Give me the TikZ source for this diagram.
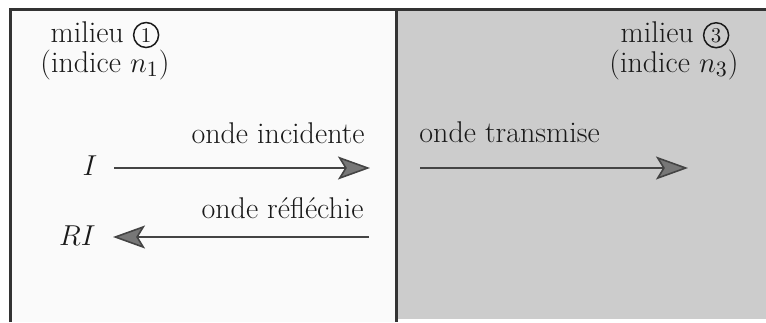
\documentclass[tikz,border=0pt]{standalone}
\usepackage{fontspec}
\usetikzlibrary{arrows.meta}
\definecolor{framec}{HTML}{333333}
\definecolor{leftbg}{HTML}{FAFAFA}
\definecolor{rightbg}{HTML}{CCCCCC}
\definecolor{arrline}{HTML}{444444}
\definecolor{tipfill}{HTML}{777777}
\newcommand\circnum[2]{\tikz[baseline=(#2.base), x=1pt, y=1pt]\node[draw=black!90, circle, line width=0.75pt, inner sep=0pt, minimum size=12.5pt, font=\fontsize{10.5}{12}\selectfont] (#2) {#1};}
\tikzset{
  lbl/.style={inner sep=0pt, font=\fontsize{15}{18}\selectfont, text=black!90},
  wave/.style={draw=arrline, line width=1.1pt,
    -{Stealth[length=16pt, width=11.5pt, inset=3.5pt, fill=tipfill, line width=0.8pt]}},
  framel/.style={draw=framec, line width=1.5pt}
}
\begin{document}
\begin{tikzpicture}[x=0.5pt,y=-0.5pt]
\useasboundingbox (0,0) rectangle (766,322);
\fill[white] (0,0) rectangle (766,322);
\fill[leftbg] (10,9) rectangle (396,322);
\fill[rightbg] (396,9) rectangle (766,319);
\draw[framel] (10,322) -- (10,9) -- (766,9);
\draw[framel] (396,9) -- (396,322);
% top labels
\node[lbl, anchor=base] (m1) at (105,42) {milieu \circnum{1}{c1}};
\node[lbl, anchor=base] (i1) at (105,72) {(indice $n_1$)};
\node[lbl, anchor=base] (m3) at (675,42) {milieu \circnum{3}{c3}};
\node[lbl, anchor=base] (i3) at (674,72) {(indice $n_3$)};
% wave labels
\node[lbl] (I) at (90,166) {$I$};
\node[lbl, anchor=east] (RI) at (96,236) {$RI$};
\node[lbl, anchor=base east] (tinc) at (365,143) {onde incidente};
\node[lbl, anchor=base east] (tref) at (364,218) {onde réfléchie};
\node[lbl, anchor=base west] (ttr) at (419,142) {onde transmise};
% arrow ends
\coordinate (a1) at (114,168);
\coordinate (a2) at (370,168);
\coordinate (b1) at (369,237);
\coordinate (b2) at (113,237);
\coordinate (e1) at (420,168);
\coordinate (e2) at (688,168);
\draw[wave] (a1) -- (a2);
\draw[wave] (b1) -- (b2);
\draw[wave] (e1) -- (e2);
\end{tikzpicture}
\end{document}
